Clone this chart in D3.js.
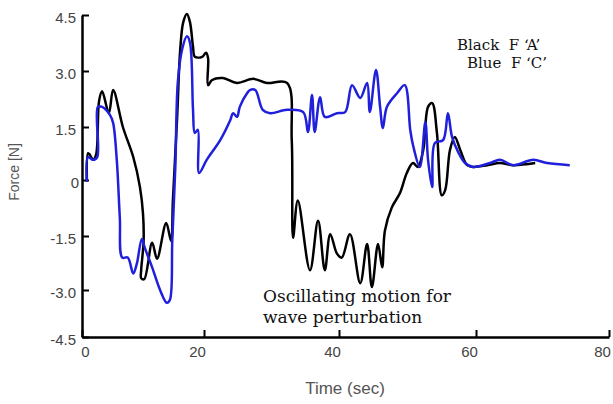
<!DOCTYPE html>
<html>
<head>
<meta charset="utf-8">
<script src="https://cdnjs.cloudflare.com/ajax/libs/d3/7.8.5/d3.min.js"></script>
<style>
  body { margin: 0; background: #fff; }
  .tick text { font-family: "Liberation Sans", Arial, sans-serif; font-size: 15px; fill: #444; }
  .axis-label { font-family: "Liberation Sans", Arial, sans-serif; fill: #555; }
  .note { font-family: "DejaVu Serif", serif; fill: #111; }
</style>
</head>
<body>
<svg id="chart" width="613" height="404"></svg>
<script>
// tick labels
const xTicks = [0, 20, 40, 60, 80];
const yTicks = [-4.5, -3.0, -1.5, 0, 1.5, 3.0, 4.5];

// black curve : F 'A'
const blackTime = [0.8, 1.0, 1.3, 1.8, 2.3, 2.8, 3.3, 4.4, 5.1, 6.7, 8.4, 9.5, 10.0, 10.1, 9.7, 9.7, 10.2,
  11.5, 12.3, 13.8, 14.6, 14.9, 15.6, 16.1, 16.6, 17.2, 17.7, 18.2, 18.5, 19.7, 20.3, 20.6, 20.6, 21.2,
  22.8, 24.9, 27.3, 29.3, 32.3, 33.0, 33.2, 33.9, 35.7, 36.9, 37.9, 38.7, 39.7, 40.4, 41.6, 43.1, 44.1,
  44.8, 45.7, 46.3, 46.7, 47.7, 48.9, 49.9, 50.8, 51.5, 52.3, 53.0, 53.6, 54.3, 55.0, 55.5, 56.2, 56.9,
  57.7, 58.7, 59.6, 61.7, 63.6, 65.6, 68.9];
const blackForce = [0, 0.76, 0.71, 0.57, 0.71, 2.2, 2.46, 1.87, 2.49, 1.5, 0.65, -0.19, -0.9, -1.64, -2.45, -2.67, -2.7,
  -1.69, -2.13, -1.15, -1.64, -0.55, 1.77, 3.57, 4.31, 4.53, 4.31, 3.65, 3.38, 3.38, 3.49, 3.35, 2.62, 2.76,
  2.81, 2.68, 2.79, 2.68, 2.68, 1.13, -1.55, -0.55, -2.45, -1.09, -2.45, -1.45, -1.99, -2.1, -1.45, -2.81, -1.72,
  -2.92, -1.72, -2.37, -1.36, -0.74, -0.35, 0.2, 0.48, 0.37, 0.85, 2.04, 2.14, 1.33, -0.41, -0.27, 0.85, 1.22,
  0.85, 0.42, 0.37, 0.42, 0.48, 0.42, 0.48];

// blue curve : F 'C'
const blueTime = [0.8, 1.0, 1.8, 2.5, 2.6, 3.3, 4.6, 5.1, 5.7, 6.2, 6.6, 7.5, 8.4, 9.0, 9.8, 10.3, 11.5, 12.8,
  13.9, 14.4, 14.8, 15.3, 15.7, 16.4, 17.2, 17.7, 18.2, 18.5, 19.0, 19.2, 20.4, 22.4, 23.9, 24.3, 24.9, 25.3,
  26.4, 26.8, 27.6, 28.7, 29.8, 32.3, 34.7, 35.4, 36.0, 36.4, 37.2, 37.9, 39.7, 40.9, 41.9, 43.1, 44.1, 44.5,
  45.4, 46.0, 46.4, 47.0, 48.5, 49.6, 50.4, 50.8, 51.8, 52.6, 53.0, 53.6, 54.0, 55.2, 55.9, 56.5, 57.4, 58.4,
  59.6, 62.1, 63.6, 65.6, 68.6, 70.7, 74.1];
const blueForce = [-0.05, 0.65, 0.57, 0.65, 2.04, 2.04, 1.82, 1.61, 0.57, -1.01, -2.1, -2.1, -2.54, -2.26, -1.58, -1.83, -2.37, -3.0,
  -3.41, -3.32, -1.64, 0.37, 2.68, 3.57, 3.93, 3.76, 1.96, 1.33, 1.42, 0.2, 0.57, 1.13, 1.69, 1.87, 1.77, 2.04,
  2.41, 2.49, 2.49, 1.96, 1.87, 1.96, 1.9, 1.36, 2.36, 1.36, 2.3, 1.77, 1.87, 1.9, 2.62, 2.28, 2.68, 1.9,
  3.03, 2.04, 1.47, 2.04, 2.41, 2.62, 1.42, 0.99, 0.37, 1.63, 0.57, -0.19, 1.05, 1.13, 1.87, 1.22, 0.79, 0.48,
  0.37, 0.48, 0.57, 0.42, 0.57, 0.48, 0.42];

const svg = d3.select('#chart');

// the scanned figure is not evenly spaced, so the scales follow its ticks
const xScale = d3.scaleLinear()
  .domain(xTicks)
  .range([82, 204, 339, 476, 609]);

const yScale = d3.scaleLinear()
  .domain(yTicks)
  .range([337, 290, 236, 180, 127, 71, 15]);

const xAxis = d3.axisBottom(xScale)
  .tickValues(xTicks)
  .tickFormat(d3.format('d'))
  .tickSizeInner(-7)
  .tickSizeOuter(0)
  .tickPadding(9);

const yAxis = d3.axisLeft(yScale)
  .tickValues(yTicks)
  .tickFormat(d => d === 0 ? '0' : d.toFixed(1))
  .tickSizeInner(-7)
  .tickSizeOuter(0)
  .tickPadding(6);

const xAxisG = svg.append('g')
  .attr('class', 'x-axis')
  .attr('transform', `translate(0,${yScale(-4.5)})`)
  .call(xAxis);

const yAxisG = svg.append('g')
  .attr('class', 'y-axis')
  .attr('transform', `translate(${xScale(0)},0)`)
  .call(yAxis);

svg.selectAll('.domain').attr('stroke', '#000').attr('stroke-width', 2.5);
svg.selectAll('.tick line').attr('stroke', '#000').attr('stroke-width', 2);

xAxisG.selectAll('.tick text')
  .attr('dx', d => d === 0 ? 3 : -7);
yAxisG.selectAll('.tick text')
  .attr('x', d => d === 0 ? -3 : -6)
  .attr('dy', '0.5em');

svg.append('text')
  .attr('class', 'axis-label')
  .attr('x', 345)
  .attr('y', 394)
  .attr('text-anchor', 'middle')
  .style('font-size', '17px')
  .text('Time (sec)');

svg.append('text')
  .attr('class', 'axis-label')
  .attr('transform', 'translate(19,172) rotate(-90)')
  .attr('text-anchor', 'middle')
  .style('font-size', '14px')
  .text('Force [N]');

const line = d3.line()
  .x(d => xScale(d[0]))
  .y(d => yScale(d[1]))
  .curve(d3.curveCatmullRom.alpha(0.5));

const series = [
  { name: 'A', color: '#000', points: d3.zip(blackTime, blackForce) },
  { name: 'C', color: '#2020dc', points: d3.zip(blueTime, blueForce) }
];

svg.append('g')
  .selectAll('path')
  .data(series)
  .enter()
  .append('path')
  .attr('fill', 'none')
  .attr('stroke', d => d.color)
  .attr('stroke-width', 2.5)
  .attr('stroke-linejoin', 'round')
  .attr('d', d => line(d.points));

// legend
svg.append('text').attr('class', 'note').attr('x', 457).attr('y', 50)
  .style('font-size', '15px')
  .attr('xml:space', 'preserve').text('Black  F \u2018A\u2019');
svg.append('text').attr('class', 'note').attr('x', 467).attr('y', 68)
  .style('font-size', '15px')
  .attr('xml:space', 'preserve').text('Blue  F \u2018C\u2019');

// annotation
svg.append('text').attr('class', 'note').attr('x', 263).attr('y', 302)
  .style('font-size', '17px')
  .text('Oscillating motion for');
svg.append('text').attr('class', 'note').attr('x', 263).attr('y', 323)
  .style('font-size', '17px')
  .text('wave perturbation');
</script>
</body>
</html>
